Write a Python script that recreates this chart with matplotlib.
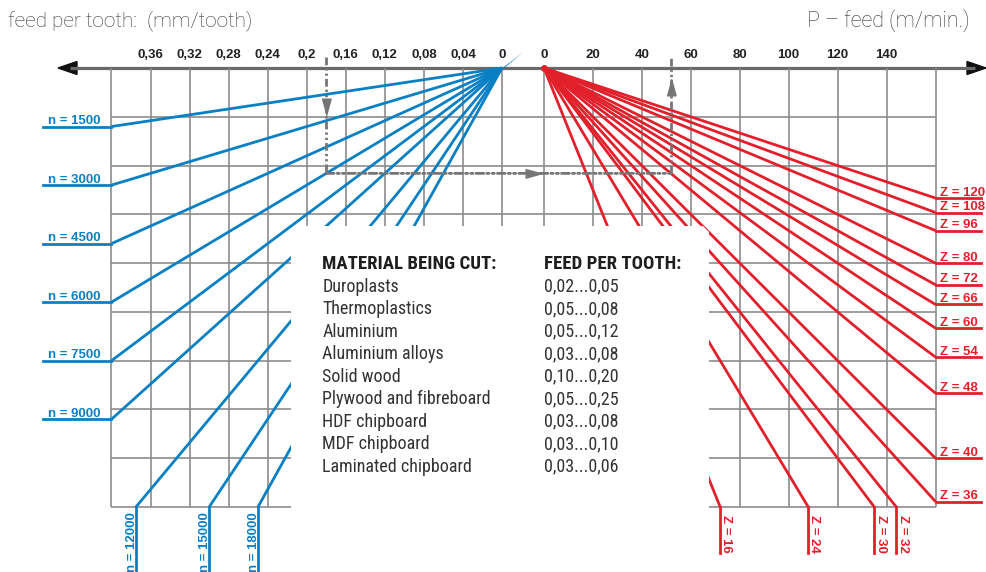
import matplotlib.pyplot as plt
from matplotlib.patches import Polygon, ConnectionPatch

# feed nomogram: feed per tooth -> spindle speed -> number of teeth -> feed rate
fz_ticks = [0, 0.04, 0.08, 0.12, 0.16, 0.20, 0.24, 0.28, 0.32, 0.36]
fz_tick_labels = ['0', '0,04', '0,08', '0,12', '0,16', '0,2', '0,24', '0,28', '0,32', '0,36']
feed_ticks = [0, 20, 40, 60, 80, 100, 120, 140]
feed_tick_labels = ['0', '20', '40', '60', '80', '100', '120', '140']
spindle_speeds = [1500, 3000, 4500, 6000, 7500, 9000, 12000, 15000, 18000]
tooth_counts = [16, 24, 30, 32, 36, 40, 48, 54, 60, 66, 72, 80, 96, 108, 120]
fz_max = 0.40
feed_max = 160
v_max = 4500      # fz * n  (mm/min per tooth)
v_step = 500

# worked example drawn with the dashed arrows
ex_fz = 0.18
ex_n = 6000
ex_z = 48

materials = ['Duroplasts', 'Thermoplastics', 'Aluminium', 'Aluminium alloys',
             'Solid wood', 'Plywood and fibreboard', 'HDF chipboard',
             'MDF chipboard', 'Laminated chipboard']
feed_ranges = ['0,02...0,05', '0,05...0,08', '0,05...0,12', '0,03...0,08',
               '0,10...0,20', '0,05...0,25', '0,03...0,08', '0,03...0,10',
               '0,03...0,06']

BLUE = '#0a80c4'
RED = '#e2202c'
GRID = '#8c8c8c'
DASH = '#757575'
W, H = 987, 572

fig = plt.figure(figsize=(W / 100, H / 100), dpi=100)
fig.patch.set_facecolor('white')


def px_axes(x0, x1, y0, y1, z):
    a = fig.add_axes([x0 / W, 1 - y1 / H, (x1 - x0) / W, (y1 - y0) / H], zorder=z)
    a.patch.set_visible(False)
    for s in a.spines.values():
        s.set_visible(False)
    return a


# background layer in pixel units
bg = px_axes(0, W, 0, H, 0)
bg.set_xlim(0, W)
bg.set_ylim(H, 0)
bg.axis('off')

axL = px_axes(111.5, 502, 68, 507, 1)
axR = px_axes(544, 935.5, 68, 507, 2)
axL.set_xlim(fz_max, 0)
axR.set_xlim(0, feed_max)
for a in (axL, axR):
    a.set_ylim(v_max, 0)
    a.set_yticks([])
    a.xaxis.tick_top()
    a.tick_params(axis='x', length=0, pad=5)

tick_kw = dict(fontweight='bold', fontsize=9.5, family='Liberation Sans', color='#222222')
axL.set_xticks(fz_ticks, fz_tick_labels, **tick_kw)
axR.set_xticks(feed_ticks, feed_tick_labels, **tick_kw)

# grid
rows = list(range(v_step, v_max + 1, v_step))
fz_grid = [i * 0.04 for i in range(11)]
feed_grid = list(range(0, feed_max + 1, 20))
axL.vlines(fz_grid, 0, v_max, color=GRID, lw=1.2, clip_on=False, zorder=1)
axR.vlines(feed_grid, 0, v_max, color=GRID, lw=1.2, clip_on=False, zorder=1)
gap = (544 - 502) / (502 - 111.5) * fz_max
axL.hlines(rows, fz_max, -gap, color=GRID, lw=1.2, clip_on=False, zorder=1)
axR.hlines(rows, 0, feed_max, color=GRID, lw=1.2, clip_on=False, zorder=1)

# main horizontal axis with arrows
bg.plot([70, 975], [68, 68], color='#6a6a6a', lw=2.3, solid_capstyle='butt')
bg.add_patch(Polygon([(58, 68), (77, 61.5), (77, 74.5)], closed=True, color='#111111'))
bg.add_patch(Polygon([(986, 68), (967, 61.5), (967, 74.5)], closed=True, color='#111111'))

lab_kw = dict(fontsize=9.5, fontweight='bold', family='Liberation Sans')

# spindle speed rays
for n in spindle_speeds:
    fz_end = min(fz_max, v_max / n)
    v_end = fz_end * n
    axL.plot([0, fz_end], [0, v_end], color=BLUE, lw=2, clip_on=False, zorder=3,
             solid_capstyle='butt')
    if v_end < v_max:
        axL.plot([fz_end, fz_max + 0.07], [v_end, v_end], color=BLUE, lw=2,
                 clip_on=False, zorder=3)
        axL.text(fz_max + 0.011, v_end - 25, f'n = {n}', ha='right', va='baseline',
                 color=BLUE, clip_on=False, **lab_kw)
    else:
        axL.plot([fz_end, fz_end], [v_end, 5300], color=BLUE, lw=2,
                 clip_on=False, zorder=3)
        axL.text(fz_end + 0.0013, 4555, f'n = {n}', rotation=90, rotation_mode='anchor',
                 ha='right', va='baseline', color=BLUE, clip_on=False, **lab_kw)

# small tail past the origin of the blue rays
bg.add_patch(Polygon([(500.5, 69.5), (523.5, 52), (503.5, 68.5)], closed=True,
                     color=BLUE, lw=0, zorder=3))

# tooth count rays
for z in tooth_counts:
    p_end = min(feed_max, v_max * z / 1000)
    v_end = p_end * 1000 / z
    axR.plot([0, p_end], [0, v_end], color=RED, lw=2, clip_on=False, zorder=3,
             solid_capstyle='butt')
    if v_end < v_max - 1:
        axR.plot([p_end, 178.5], [v_end, v_end], color=RED, lw=2,
                 clip_on=False, zorder=3)
        axR.text(162, v_end - 25, f'Z = {z}', ha='left', va='baseline',
                 color=RED, clip_on=False, **lab_kw)
    else:
        axR.plot([p_end, p_end], [v_end, 4975], color=RED, lw=2,
                 clip_on=False, zorder=3)
        axR.text(p_end + 1.3, 4580, f'Z = {z}', rotation=270, rotation_mode='anchor',
                 ha='left', va='baseline', color=RED, clip_on=False, **lab_kw)

axR.plot([0], [0], 'o', color=RED, ms=4, clip_on=False, zorder=4)

# worked example: fz -> n line -> Z line -> feed rate
dash = (0, (2.8, 1.1, 0.8, 1.1, 0.8, 1.1))
ex_v = ex_fz * ex_n
ex_p = ex_v * ex_z / 1000
axL.plot([ex_fz, ex_fz], [-115, ex_v], color=DASH, lw=2, ls=dash,
         clip_on=False, zorder=5)
axR.plot([ex_p, ex_p], [ex_v, -115], color=DASH, lw=2, ls=dash,
         clip_on=False, zorder=5)
con = ConnectionPatch(xyA=(ex_fz, ex_v), coordsA=axL.transData,
                      xyB=(ex_p, ex_v), coordsB=axR.transData,
                      color=DASH, lw=2, ls=dash, zorder=2.5)
fig.add_artist(con)
down = [(-0.55, 1), (0.55, 1), (0, -1)]
right = [(-1, 0.55), (-1, -0.55), (1, 0)]
up = [(-0.55, -1), (0.55, -1), (0, 1)]
axL.plot([ex_fz], [400], marker=down, color=DASH, ms=12, clip_on=False, zorder=6)
axR.plot([-4], [ex_v], marker=right, color=DASH, ms=12, clip_on=False, zorder=6)
axR.plot([ex_p], [190], marker=up, color=DASH, ms=12, clip_on=False, zorder=6)

# axis titles
bg.text(8, 21, 'feed per tooth:  (mm/tooth)', ha='left', va='center', fontsize=15,
        family='Roboto', fontweight='light', color='#333333')
bg.text(970, 21, 'P – feed (m/min.)', ha='right', va='center', fontsize=15.5,
        family='Roboto', fontweight='light', color='#333333')

# material table on a white panel
top = px_axes(0, W, 0, H, 3)
top.set_xlim(0, W)
top.set_ylim(H, 0)
top.axis('off')
top.add_patch(Polygon([(291, 241), (306, 226), (703, 226), (709, 232),
                       (709, H + 5), (291, H + 5)], closed=True,
                      facecolor='white', edgecolor='none'))
tab_font = ['Roboto Condensed', 'DejaVu Sans Condensed', 'Liberation Sans']
top.text(322.5, 269.3, 'MATERIAL BEING CUT:', fontsize=13.5, fontweight='bold',
         family=tab_font, color='#1e1e1e', va='baseline')
top.text(544, 269.3, 'FEED PER TOOTH:', fontsize=13.5, fontweight='bold',
         family=tab_font, color='#1e1e1e', va='baseline')
for i, (m, f) in enumerate(zip(materials, feed_ranges)):
    yb = 291.7 + 22.5 * i
    top.text(322.5, yb, m, fontsize=13, family=tab_font, color='#333333', va='baseline')
    top.text(544, yb, f, fontsize=13, family=tab_font, color='#333333', va='baseline')

fig.savefig('out.png', dpi=100)
